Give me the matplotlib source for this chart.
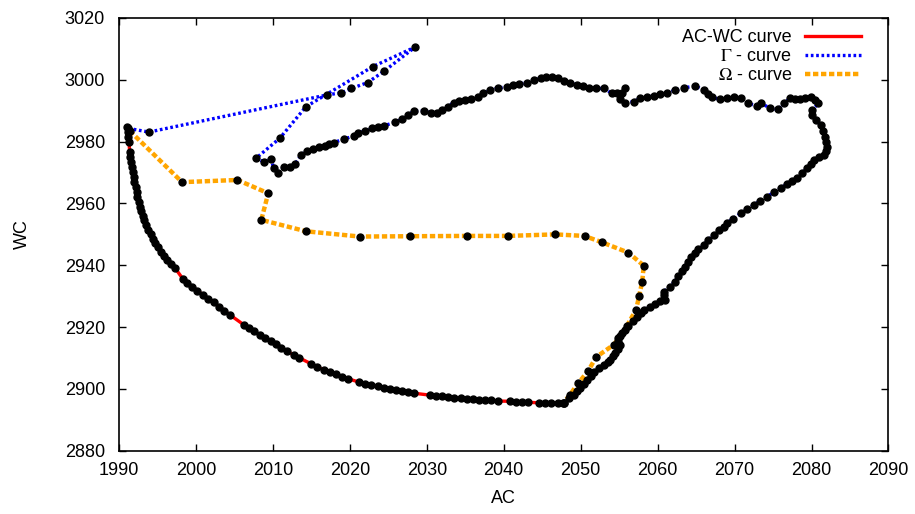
import matplotlib
matplotlib.use("Agg")
import matplotlib.pyplot as plt

# AC-WC curve (lower-left arc)
acwc_x = [1991.1, 1991.2, 1991.2, 1991.3, 1991.4, 1991.5, 1991.6, 1991.7, 1991.8, 1991.9,
          1992.0, 1992.2, 1992.3, 1992.4, 1992.6, 1992.7, 1992.9, 1993.1, 1993.3, 1993.5,
          1993.8, 1994.1, 1994.4, 1994.7, 1995.1, 1995.5, 1995.9, 1996.3, 1996.8, 1997.3,
          1998.3, 1998.9, 1999.5, 2000.2, 2000.9, 2001.6, 2002.3, 2003.0, 2003.7, 2004.4,
          2006.2, 2006.9, 2007.6, 2008.3, 2009.0, 2009.7, 2010.4, 2011.1, 2011.8, 2012.7,
          2013.4, 2015.0, 2015.8, 2016.6, 2017.4, 2018.2, 2019.0, 2019.8, 2021.2, 2022.0,
          2022.8, 2023.6, 2024.4, 2025.2, 2026.0, 2026.8, 2027.6, 2028.4, 2030.4, 2031.2,
          2032.0, 2032.8, 2033.6, 2034.4, 2035.2, 2036.0, 2036.8, 2037.6, 2038.4, 2039.2,
          2040.8, 2041.6, 2042.4, 2043.2, 2044.6, 2045.4, 2046.2, 2047.0, 2047.7]
acwc_y = [2984.6, 2983.0, 2981.6, 2980.0, 2976.6, 2975.0, 2973.4, 2971.8, 2970.2, 2968.6,
          2967.0, 2965.4, 2963.8, 2962.2, 2960.6, 2959.0, 2957.5, 2956.0, 2954.5, 2953.0,
          2951.5, 2950.0, 2948.6, 2947.2, 2945.8, 2944.4, 2943.0, 2941.7, 2940.4, 2939.1,
          2935.6, 2934.3, 2933.1, 2931.8, 2930.5, 2929.2, 2928.0, 2926.6, 2925.3, 2924.0,
          2920.8, 2919.7, 2918.6, 2917.5, 2916.4, 2915.4, 2914.4, 2913.4, 2912.3, 2911.0,
          2910.1, 2908.1, 2907.1, 2906.2, 2905.5, 2904.8, 2904.0, 2903.3, 2902.2, 2901.7,
          2901.2, 2900.8, 2900.4, 2900.0, 2899.6, 2899.2, 2898.9, 2898.6, 2898.0, 2897.8,
          2897.6, 2897.4, 2897.2, 2897.0, 2896.8, 2896.7, 2896.5, 2896.4, 2896.3, 2896.1,
          2896.0, 2895.9, 2895.8, 2895.7, 2895.5, 2895.4, 2895.4, 2895.4, 2895.4]

# Gamma curve (right side, top loop, then the spike back to the start)
gamma_x = [2047.8, 2048.5, 2049.1, 2049.5, 2049.9, 2050.4, 2050.8, 2051.3, 2051.7, 2052.4,
           2053.0, 2053.5, 2053.8, 2054.2, 2054.5, 2054.8, 2055.1, 2054.9, 2054.9, 2055.4,
           2055.8, 2056.2, 2056.8, 2057.3, 2057.8, 2058.2, 2059.0, 2059.7, 2060.3, 2061.0,
           2060.8, 2060.8, 2061.6, 2062.2, 2062.7, 2063.2, 2063.5, 2063.9, 2064.3, 2064.8,
           2065.3, 2066.0, 2066.6, 2067.3, 2068.0, 2068.6, 2069.0, 2069.8, 2070.8, 2071.6,
           2072.5, 2073.3, 2074.2, 2075.1, 2076.0, 2076.8, 2077.5, 2078.1, 2078.8, 2079.4,
           2079.9, 2080.3, 2081.0, 2081.6, 2081.9, 2082.0, 2081.9, 2081.8, 2081.5, 2081.2,
           2080.6, 2080.1, 2080.1, 2080.9, 2080.4, 2079.9, 2079.2, 2078.5, 2077.8, 2077.2,
           2076.4, 2075.7, 2074.6, 2073.5, 2072.9, 2071.8, 2070.8, 2069.9, 2069.0, 2068.1,
           2067.1, 2066.6, 2066.0, 2064.9, 2063.4, 2062.3, 2061.2, 2060.3, 2059.5, 2058.6,
           2057.7, 2056.9, 2055.8, 2055.1, 2055.4, 2055.8, 2054.7, 2054.1, 2053.0, 2052.0,
           2051.1, 2050.3, 2049.5, 2048.6, 2047.8, 2047.0, 2046.3, 2045.5, 2044.8, 2043.9,
           2043.0, 2042.0, 2041.2, 2040.4, 2039.3, 2038.2, 2037.3, 2036.6, 2035.7, 2035.0,
           2034.2, 2033.5, 2032.7, 2032.0, 2031.3, 2030.6, 2029.6, 2028.3, 2027.6, 2026.8,
           2025.9, 2024.4, 2023.6, 2022.9, 2022.0, 2021.1, 2020.5, 2019.2, 2017.9, 2017.3,
           2016.8, 2016.0, 2015.2, 2014.4, 2013.7, 2012.9, 2012.2, 2011.4, 2010.7, 2010.1,
           2009.8, 2008.8, 2007.8, 2010.9, 2014.3, 2023.0, 2028.5, 2024.4, 2022.3, 2020.2,
           2018.9, 2017.0, 1993.9, 1991.2]
gamma_y = [2895.4, 2897.0, 2898.1, 2899.2, 2900.2, 2901.6, 2903.0, 2904.3, 2905.6, 2906.7,
           2907.8, 2908.7, 2909.4, 2910.5, 2911.6, 2913.0, 2914.3, 2915.5, 2916.4, 2918.0,
           2919.2, 2920.4, 2921.9, 2923.4, 2924.6, 2925.6, 2926.6, 2927.5, 2928.3, 2928.8,
           2930.3, 2931.5, 2933.1, 2934.7, 2936.4, 2938.0, 2939.5, 2941.2, 2942.8, 2944.0,
           2945.2, 2946.6, 2948.2, 2949.8, 2951.3, 2952.5, 2953.6, 2955.1, 2956.8, 2958.1,
           2959.5, 2960.8, 2962.2, 2963.6, 2964.9, 2966.3, 2967.3, 2968.2, 2969.8, 2971.4,
           2972.8, 2974.1, 2974.9, 2975.7, 2977.0, 2978.4, 2980.0, 2981.6, 2983.5, 2985.4,
           2987.0, 2988.6, 2990.2, 2992.4, 2993.6, 2994.5, 2994.2, 2993.7, 2993.9, 2994.0,
           2992.4, 2990.4, 2990.8, 2992.4, 2991.5, 2992.4, 2994.0, 2994.3, 2994.0, 2993.7,
           2994.3, 2995.5, 2996.7, 2998.0, 2997.4, 2996.6, 2995.8, 2995.3, 2994.8, 2994.4,
           2994.0, 2992.9, 2992.6, 2993.7, 2995.6, 2997.2, 2995.6, 2995.6, 2997.2, 2997.2,
           2997.5, 2997.9, 2998.3, 2999.0, 2999.7, 3000.6, 3001.0, 3000.8, 3000.5, 2999.8,
           2999.1, 2998.6, 2998.2, 2997.8, 2997.3, 2996.7, 2995.6, 2994.3, 2993.7, 2993.6,
           2993.2, 2992.6, 2991.3, 2990.2, 2989.4, 2989.2, 2990.0, 2989.9, 2988.6, 2987.3,
           2986.3, 2985.1, 2984.7, 2984.3, 2983.5, 2982.7, 2981.8, 2980.8, 2979.7, 2979.2,
           2978.7, 2978.2, 2977.7, 2977.1, 2975.7, 2972.8, 2971.9, 2971.7, 2970.0, 2971.4,
           2974.3, 2973.5, 2974.6, 2981.1, 2991.3, 3004.3, 3010.6, 3002.7, 2999.1, 2997.2,
           2995.8, 2995.1, 2983.1, 2984.3]

# Omega curve
omega_x = [1991.4, 1998.2, 2005.4, 2009.4, 2008.5, 2014.3, 2021.3, 2027.8, 2035.2, 2040.5,
           2046.7, 2050.5, 2052.8, 2056.2, 2058.2, 2058.0, 2057.6, 2057.2, 2056.0, 2055.1,
           2054.3, 2052.0, 2051.0, 2049.7, 2048.6, 2047.8]
omega_y = [2983.5, 2966.9, 2967.6, 2963.3, 2954.7, 2951.0, 2949.3, 2949.4, 2949.5, 2949.5,
           2950.0, 2949.5, 2947.4, 2944.1, 2939.9, 2934.7, 2930.1, 2925.6, 2920.4, 2917.0,
           2914.3, 2910.3, 2905.9, 2901.9, 2898.1, 2895.5]

plt.rcParams['font.family'] = ['Liberation Sans', 'DejaVu Sans']
plt.rcParams['mathtext.fontset'] = 'stix'
plt.rcParams['font.size'] = 13

fig = plt.figure(figsize=(9.15, 5.14), dpi=100)
ax = fig.add_axes([0.130, 0.123, 0.841, 0.842])

ax.plot(acwc_x, acwc_y, color='#ff0000', lw=2.4, label='AC-WC curve', zorder=2)
ax.plot(gamma_x, gamma_y, color='#0000ff', lw=2.4, linestyle=(0, (0.8, 0.8)),
        label=r'$\Gamma$ - curve', zorder=2)
ax.plot(omega_x, omega_y, color='#ffa500', lw=3.2, linestyle=(0, (1.2, 0.6)),
        label=r'$\Omega$ - curve', zorder=2)

for xs, ys in [(acwc_x, acwc_y), (gamma_x, gamma_y), (omega_x, omega_y)]:
    ax.plot(xs, ys, linestyle='none', marker='o', ms=5, color='black', zorder=3)

ax.set_xlim(1990, 2090)
ax.set_ylim(2880, 3020)
ax.set_xticks(range(1990, 2091, 10))
ax.set_yticks(range(2880, 3021, 20))
ax.tick_params(direction='in', length=5, width=1, top=True, right=True)
ax.tick_params(axis='x', pad=8)
ax.tick_params(axis='y', pad=10)
for s in ax.spines.values():
    s.set_linewidth(1.2)
ax.set_xlabel('AC', labelpad=8)
ax.set_ylabel('WC', labelpad=24)

ax.legend(loc='upper right', frameon=False, markerfirst=False, handlelength=3.1,
          handletextpad=0.7, labelspacing=0.12, borderaxespad=0.2,
          bbox_to_anchor=(0.978, 1.0), fontsize=13)

fig.savefig('out.png', dpi=100)
